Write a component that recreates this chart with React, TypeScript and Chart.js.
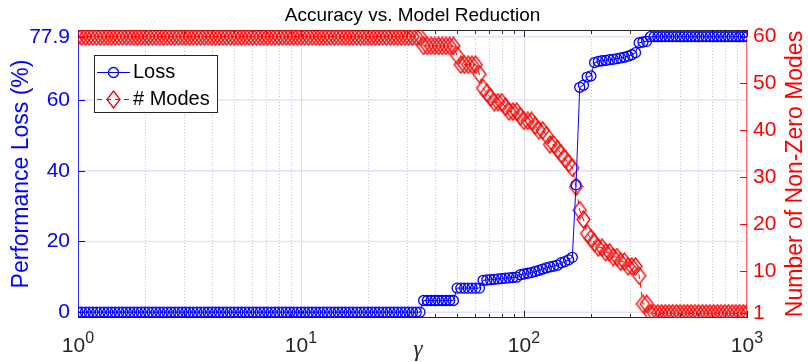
import React, { useEffect, useRef } from "react";
import { Chart, registerables } from "chart.js";

Chart.register(...registerables);

// gamma sample grid (x values)
const gammaValues = [
  1, 1.039, 1.08, 1.122, 1.166, 1.212, 1.259, 1.308, 1.359, 1.413,
  1.468, 1.525, 1.585, 1.647, 1.711, 1.778, 1.848, 1.92, 1.995, 2.073,
  2.154, 2.239, 2.326, 2.417, 2.512, 2.61, 2.712, 2.818, 2.929, 3.043,
  3.162, 3.286, 3.415, 3.548, 3.687, 3.831, 3.981, 4.137, 4.299, 4.467,
  4.642, 4.823, 5.012, 5.208, 5.412, 5.623, 5.843, 6.072, 6.31, 6.556,
  6.813, 7.079, 7.356, 7.644, 7.943, 8.254, 8.577, 8.913, 9.261, 9.624,
  10, 10.39, 10.8, 11.22, 11.66, 12.12, 12.59, 13.08, 13.59, 14.13,
  14.68, 15.25, 15.85, 16.47, 17.11, 17.78, 18.48, 19.2, 19.95, 20.73,
  21.54, 22.39, 23.26, 24.17, 25.12, 26.1, 27.12, 28.18, 29.29, 30.43,
  31.62, 32.86, 34.15, 35.48, 36.87, 38.31, 39.81, 41.37, 42.99, 44.67,
  46.42, 48.23, 50.12, 52.08, 54.12, 56.23, 58.43, 60.72, 63.1, 65.56,
  68.13, 70.79, 73.56, 76.44, 79.43, 82.54, 85.77, 89.13, 92.61, 96.24,
  100, 103.9, 108, 112.2, 116.6, 121.2, 125.9, 130.8, 135.9, 141.3,
  146.8, 152.5, 158.5, 164.7, 171.1, 177.8, 184.8, 192, 199.5, 207.3,
  215.4, 223.9, 232.6, 241.7, 251.2, 261, 271.2, 281.8, 292.9, 304.3,
  316.2, 328.6, 341.5, 354.8, 368.7, 383.1, 398.1, 413.7, 429.9, 446.7,
  464.2, 482.3, 501.2, 520.8, 541.2, 562.3, 584.3, 607.2, 631, 655.6,
  681.3, 707.9, 735.6, 764.4, 794.3, 825.4, 857.7, 891.3, 926.1, 962.4,
  1000,
];

// Performance loss (%) per gamma
const lossValues = [
  0, 0, 0, 0, 0, 0, 0, 0, 0, 0,
  0, 0, 0, 0, 0, 0, 0, 0, 0, 0,
  0, 0, 0, 0, 0, 0, 0, 0, 0, 0,
  0, 0, 0, 0, 0, 0, 0, 0, 0, 0,
  0, 0, 0, 0, 0, 0, 0, 0, 0, 0,
  0, 0, 0, 0, 0, 0, 0, 0, 0, 0,
  0, 0, 0, 0, 0, 0, 0, 0, 0, 0,
  0, 0, 0, 0, 0, 0, 0, 0, 0, 0,
  0, 0, 0, 0, 0, 0, 0, 0, 0, 0,
  0, 0, 0, 3.3, 3.3, 3.3, 3.3, 3.3, 3.3, 3.3,
  3.3, 3.3, 6.8, 6.8, 6.8, 6.8, 6.8, 6.8, 6.8, 9.0,
  9.1, 9.2, 9.3, 9.4, 9.5, 9.6, 9.7, 9.8, 9.9, 10.6,
  10.8, 11.0, 11.2, 11.5, 11.8, 12.2, 12.5, 12.8, 13.0, 13.3,
  14.0, 14.3, 14.8, 15.5, 36.0, 63.6, 64.2, 66.5, 66.8, 70.6,
  70.9, 71.1, 71.2, 71.4, 71.5, 71.7, 71.9, 72.1, 72.4, 72.8,
  73.4, 76.2, 76.4, 76.6, 77.9, 77.9, 77.9, 77.9, 77.9, 77.9,
  77.9, 77.9, 77.9, 77.9, 77.9, 77.9, 77.9, 77.9, 77.9, 77.9,
  77.9, 77.9, 77.9, 77.9, 77.9, 77.9, 77.9, 77.9, 77.9, 77.9,
  77.9,
];

// Number of non-zero modes per gamma
const modeValues = [
  60, 60, 60, 60, 60, 60, 60, 60, 60, 60,
  60, 60, 60, 60, 60, 60, 60, 60, 60, 60,
  60, 60, 60, 60, 60, 60, 60, 60, 60, 60,
  60, 60, 60, 60, 60, 60, 60, 60, 60, 60,
  60, 60, 60, 60, 60, 60, 60, 60, 60, 60,
  60, 60, 60, 60, 60, 60, 60, 60, 60, 60,
  60, 60, 60, 60, 60, 60, 60, 60, 60, 60,
  60, 60, 60, 60, 60, 60, 60, 60, 60, 60,
  60, 60, 60, 60, 60, 60, 60, 60, 60, 60,
  60, 60, 60, 58, 58, 58, 58, 58, 58, 58,
  58, 58, 56, 54, 54, 54, 54, 54, 52, 49,
  48, 47, 46, 46, 46, 45, 44, 44, 44, 43,
  42, 42, 42, 41, 40, 40, 39, 37, 37, 36,
  35, 34, 33, 32, 28, 23, 21, 18, 17, 16,
  15, 15, 14, 14, 13, 13, 12, 12, 11, 11,
  11, 9, 3, 3, 1, 1, 1, 1, 1, 1,
  1, 1, 1, 1, 1, 1, 1, 1, 1, 1,
  1, 1, 1, 1, 1, 1, 1, 1, 1, 1,
  1,
];

const lossTicks = [0, 20, 40, 60, 77.9];
const modeTicks = [1, 10, 20, 30, 40, 50, 60];
const decadeTicks = [1, 10, 100, 1000];
const decadeExponents = ["0", "1", "2", "3"];
const minorTicks = [2, 3, 4, 5, 6, 7, 8, 9, 20, 30, 40, 50, 60, 70, 80, 90, 200, 300, 400, 500, 600, 700, 800, 900];

const titleText = "Accuracy vs. Model Reduction";
const leftTitle = "Performance Loss (%)";
const rightTitle = "Number of Non-Zero Modes";
const xTitle = "γ";
const seriesNames = ["Loss", "# Modes"];

const FONT = "'Liberation Sans', Arial, Helvetica, sans-serif";
const BLUE = "#0000ff";
const RED = "#ff0000";
const AXIS = "#262626";

function makeDiamond(color: string) {
  const c = document.createElement("canvas");
  c.width = 15;
  c.height = 19;
  const g = c.getContext("2d")!;
  g.strokeStyle = color;
  g.lineWidth = 1.3;
  g.beginPath();
  g.moveTo(7.5, 1);
  g.lineTo(14, 9.5);
  g.lineTo(7.5, 18);
  g.lineTo(1, 9.5);
  g.closePath();
  g.stroke();
  return c;
}

export default function App() {
  const ref = useRef<HTMLCanvasElement>(null);

  useEffect(() => {
    const canvas = ref.current;
    if (!canvas) return;
    const diamond = makeDiamond(RED);

    const seg = (ctx: CanvasRenderingContext2D, x1: number, y1: number, x2: number, y2: number) => {
      ctx.beginPath();
      ctx.moveTo(x1, y1);
      ctx.lineTo(x2, y2);
      ctx.stroke();
    };

    const decor = {
      id: "decor",
      beforeDatasetsDraw(chart: any) {
        const ctx: CanvasRenderingContext2D = chart.ctx;
        const { left, right, top, bottom } = chart.chartArea;
        const xs = chart.scales.x;
        const yl = chart.scales.yL;
        const yr = chart.scales.yR;
        ctx.save();
        ctx.lineWidth = 1;
        ctx.strokeStyle = "#c6c6c6";
        ctx.setLineDash([1, 2]);
        minorTicks.forEach((v) => {
          const p = Math.round(xs.getPixelForValue(v)) + 0.5;
          seg(ctx, p, top, p, bottom);
        });
        ctx.setLineDash([]);
        ctx.strokeStyle = "#dcdcdc";
        decadeTicks.forEach((v) => {
          const p = Math.round(xs.getPixelForValue(v)) + 0.5;
          seg(ctx, p, top, p, bottom);
        });
        ctx.strokeStyle = "#e2e2ff";
        ctx.lineWidth = 1.5;
        lossTicks.forEach((v) => {
          const p = yl.getPixelForValue(v);
          seg(ctx, left, p, right, p);
        });
        ctx.lineWidth = 1;
        ctx.strokeStyle = AXIS;
        seg(ctx, left, top + 0.5, right, top + 0.5);
        seg(ctx, left, bottom - 0.5, right, bottom - 0.5);
        decadeTicks.forEach((v) => {
          const p = Math.round(xs.getPixelForValue(v)) + 0.5;
          seg(ctx, p, top, p, top + 7);
          seg(ctx, p, bottom, p, bottom - 7);
        });
        minorTicks.forEach((v) => {
          const p = Math.round(xs.getPixelForValue(v)) + 0.5;
          seg(ctx, p, top, p, top + 4);
          seg(ctx, p, bottom, p, bottom - 4);
        });
        ctx.strokeStyle = "rgba(0,0,255,0.8)";
        seg(ctx, left + 0.5, top, left + 0.5, bottom);
        ctx.strokeStyle = BLUE;
        lossTicks.forEach((v) => {
          const p = Math.round(yl.getPixelForValue(v)) + 0.5;
          seg(ctx, left, p, left + 7, p);
        });
        ctx.strokeStyle = "rgba(255,0,0,0.6)";
        seg(ctx, right - 0.5, top, right - 0.5, bottom);
        ctx.strokeStyle = RED;
        modeTicks.forEach((v) => {
          const p = Math.round(yr.getPixelForValue(v)) + 0.5;
          seg(ctx, right - 7, p, right, p);
        });
        ctx.restore();
      },
      afterDraw(chart: any) {
        const ctx: CanvasRenderingContext2D = chart.ctx;
        const { left, right, top, bottom } = chart.chartArea;
        const xs = chart.scales.x;
        const midY = (top + bottom) / 2;
        ctx.save();
        ctx.fillStyle = "#000";
        ctx.font = `19px ${FONT}`;
        ctx.textAlign = "center";
        ctx.textBaseline = "alphabetic";
        ctx.fillText(titleText, (left + right) / 2, 21);
        ctx.fillStyle = AXIS;
        ctx.textAlign = "left";
        decadeTicks.forEach((v, i) => {
          const px = xs.getPixelForValue(v);
          ctx.font = `21px ${FONT}`;
          const w1 = ctx.measureText("10").width;
          ctx.font = `16px ${FONT}`;
          const w2 = ctx.measureText(decadeExponents[i]).width;
          const start = px - (w1 + w2) / 2;
          ctx.font = `21px ${FONT}`;
          ctx.fillText("10", start, 352);
          ctx.font = `16px ${FONT}`;
          ctx.fillText(decadeExponents[i], start + w1, 343);
        });
        ctx.font = `italic 23px 'Liberation Serif', 'DejaVu Serif', serif`;
        ctx.textAlign = "center";
        ctx.fillText(xTitle, 418, 356);
        ctx.save();
        ctx.translate(22, midY);
        ctx.rotate(-Math.PI / 2);
        ctx.font = `23px ${FONT}`;
        ctx.fillStyle = BLUE;
        ctx.textAlign = "center";
        ctx.textBaseline = "middle";
        ctx.fillText(leftTitle, 0, 0);
        ctx.restore();
        ctx.save();
        ctx.translate(796, midY);
        ctx.rotate(-Math.PI / 2);
        ctx.font = `23px ${FONT}`;
        ctx.fillStyle = RED;
        ctx.textAlign = "center";
        ctx.textBaseline = "middle";
        ctx.fillText(rightTitle, 0, 0);
        ctx.restore();
        ctx.fillStyle = "#fff";
        ctx.fillRect(94.5, 55.5, 123, 57);
        ctx.strokeStyle = AXIS;
        ctx.lineWidth = 1;
        ctx.strokeRect(94.5, 55.5, 123, 57);
        const y1 = 72.5;
        const y2 = 99.5;
        ctx.strokeStyle = BLUE;
        seg(ctx, 97, y1, 130, y1);
        ctx.lineWidth = 1.3;
        ctx.beginPath();
        ctx.arc(113.5, y1, 5, 0, Math.PI * 2);
        ctx.stroke();
        ctx.lineWidth = 1;
        ctx.strokeStyle = RED;
        ctx.setLineDash([5, 4]);
        seg(ctx, 97, y2, 130, y2);
        ctx.setLineDash([]);
        ctx.drawImage(diamond, 113.5 - 7.5, y2 - 9.5);
        ctx.fillStyle = "#000";
        ctx.font = `20px ${FONT}`;
        ctx.textAlign = "left";
        ctx.textBaseline = "middle";
        ctx.fillText(seriesNames[0], 133, y1);
        ctx.fillText(seriesNames[1], 133, y2);
        ctx.restore();
      },
    };

    const chart = new Chart(canvas, {
      type: "line",
      data: {
        datasets: [
          {
            label: seriesNames[0],
            data: gammaValues.map((g, i) => ({ x: g, y: lossValues[i] })),
            yAxisID: "yL",
            borderColor: BLUE,
            borderWidth: 1,
            pointStyle: "circle",
            pointRadius: 5,
            pointBorderWidth: 1.3,
            pointBorderColor: BLUE,
            pointBackgroundColor: "rgba(0,0,0,0)",
            fill: false,
            tension: 0,
          },
          {
            label: seriesNames[1],
            data: gammaValues.map((g, i) => ({ x: g, y: modeValues[i] })),
            yAxisID: "yR",
            borderColor: RED,
            borderWidth: 1,
            borderDash: [5, 4],
            pointStyle: diamond as any,
            pointRadius: 7,
            pointBorderColor: RED,
            pointBackgroundColor: "rgba(0,0,0,0)",
            fill: false,
            tension: 0,
          },
        ],
      },
      options: {
        responsive: false,
        animation: false,
        devicePixelRatio: 1,
        events: [],
        layout: { padding: { top: 30, left: 0, right: 0, bottom: 0 } },
        plugins: {
          legend: { display: false },
          title: { display: false },
          tooltip: { enabled: false },
        },
        scales: {
          x: {
            type: "logarithmic",
            position: "bottom",
            min: 1,
            max: 1000,
            grid: { display: false, drawTicks: false },
            border: { display: false },
            ticks: { display: false },
            afterFit: (s: any) => {
              s.height = 44;
            },
          },
          yL: {
            type: "linear",
            position: "left",
            min: -1.65,
            max: 79.8,
            grid: { display: false, drawTicks: false },
            border: { display: false },
            ticks: {
              color: BLUE,
              font: { family: FONT, size: 21 },
              padding: 8,
              autoSkip: false,
              callback: (v: any) => String(v),
            },
            afterBuildTicks: (s: any) => {
              s.ticks = lossTicks.map((v) => ({ value: v }));
            },
            afterFit: (s: any) => {
              s.width = 78;
            },
          },
          yR: {
            type: "linear",
            position: "right",
            min: 0,
            max: 61.4,
            grid: { display: false, drawTicks: false },
            border: { display: false },
            ticks: {
              color: RED,
              font: { family: FONT, size: 21 },
              padding: 6,
              autoSkip: false,
              callback: (v: any) => String(v),
            },
            afterBuildTicks: (s: any) => {
              s.ticks = modeTicks.map((v) => ({ value: v }));
            },
            afterFit: (s: any) => {
              s.width = 61;
            },
          },
        },
      } as any,
      plugins: [decor],
    });

    return () => chart.destroy();
  }, []);

  return (
    <div style={{ position: "fixed", left: 0, top: 0, width: 808, height: 362, background: "#fff" }}>
      <canvas ref={ref} width={808} height={362} style={{ display: "block", width: 808, height: 362 }} />
    </div>
  );
}
